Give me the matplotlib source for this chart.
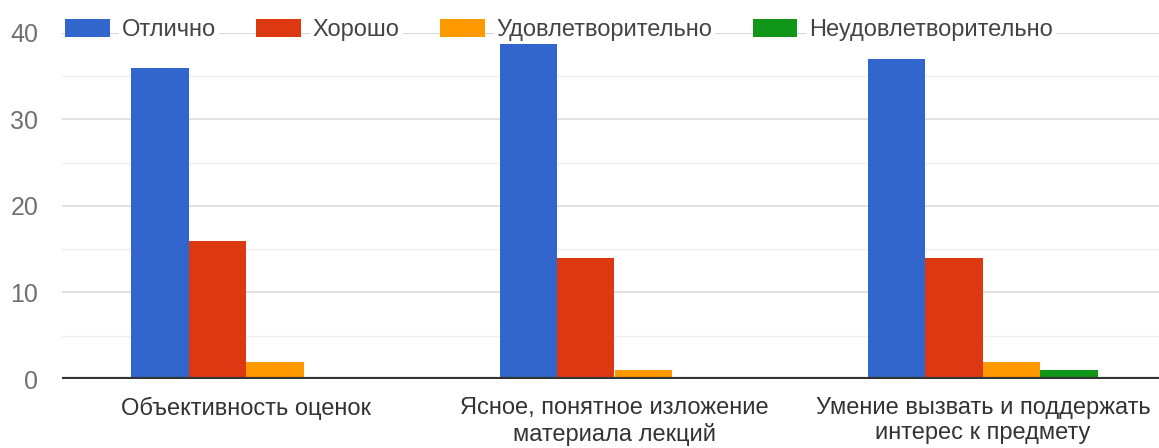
import numpy as np
import matplotlib.pyplot as plt
from matplotlib.ticker import MultipleLocator

categories = ['Объективность оценок',
              'Ясное, понятное изложение\nматериала лекций',
              'Умение вызвать и поддержать\nинтерес к предмету']
series = ['Отлично', 'Хорошо', 'Удовлетворительно', 'Неудовлетворительно']
otlichno = [36, 39, 37]
khorosho = [16, 14, 14]
udovl = [2, 1, 2]
neudovl = [0, 0, 1]
colors = ['#3366cc', '#dc3912', '#ff9900', '#109618']

plt.rcParams['font.family'] = ['Liberation Sans', 'DejaVu Sans']

fig = plt.figure(figsize=(11.59, 4.48), dpi=100)
ax = fig.add_axes([62 / 1159, 69 / 448, 1105 / 1159, 346 / 448])

x = np.arange(len(categories))
w = 0.156
values = [otlichno, khorosho, udovl, neudovl]
for i, (name, vals) in enumerate(zip(series, values)):
    ax.bar(x + (i - 1.5) * w, vals, width=w, color=colors[i], label=name, zorder=3)

ax.set_xlim(-0.5, 2.5)
ax.set_ylim(0, 40)
ax.yaxis.set_major_locator(MultipleLocator(10))
ax.yaxis.set_minor_locator(MultipleLocator(5))
ax.grid(axis='y', which='major', color='#dedede', linewidth=1.3, zorder=0)
ax.grid(axis='y', which='minor', color='#f0f0f0', linewidth=1.0, zorder=0)
# верхняя линия сетки темнее
ax.axhline(40, color='#b4b4bc', linewidth=1.5, zorder=1)
ax.axhline(0, color='#333333', linewidth=3, zorder=4)

for s in ax.spines.values():
    s.set_visible(False)

ax.set_xticks(x)
ax.set_xticklabels(categories, fontsize=17, color='#333333', linespacing=1.2)
ax.tick_params(axis='x', length=0, pad=13)
ax.tick_params(axis='y', which='both', length=0, pad=17, labelsize=18, labelcolor='#707070')

leg = ax.legend(loc='center left', bbox_to_anchor=(0.003, 1.008), ncol=4, frameon=False,
                fontsize=17, handlelength=1.9, handleheight=0.75, handletextpad=0.5,
                columnspacing=1.7, borderaxespad=0, borderpad=0)
for t in leg.get_texts():
    t.set_color('#444444')
    t.set_bbox(dict(facecolor='white', edgecolor='none', pad=2))

fig.savefig('out.png', dpi=100)
